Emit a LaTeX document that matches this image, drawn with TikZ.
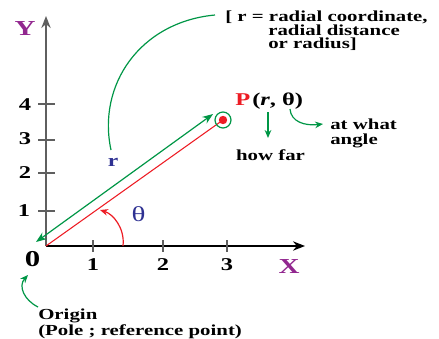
\documentclass[tikz,border=0pt]{standalone}
\usepackage{fontspec}
\setmainfont{Liberation Serif}[FakeStretch=1.36]
\usetikzlibrary{arrows.meta}
\definecolor{mygreen}{RGB}{0,150,70}
\definecolor{myred}{RGB}{237,28,36}
\definecolor{mypurple}{RGB}{146,39,143}
\definecolor{myblue}{RGB}{46,49,146}
\definecolor{axisgrey}{RGB}{95,95,95}
\tikzset{
  txt/.style={font=\fontsize{11.5}{9.8}\selectfont\bfseries, inner sep=0pt},
  num/.style={font=\fontsize{13.5}{14}\selectfont\bfseries, inner sep=0pt},
  axlab/.style={font=\fontsize{16}{16}\selectfont\bfseries, text=mypurple, inner sep=0pt},
  garrow/.style={draw=mygreen, line width=0.9pt, -{Stealth[length=6pt,width=5pt]}},
  tickmark/.style={draw=axisgrey, line width=1.2pt},
}
\begin{document}
\begin{tikzpicture}[x=0.75pt,y=-0.75pt]
\useasboundingbox (0,0) rectangle (439,339);
% axes
\coordinate (O) at (46,246);
\coordinate (Ytop) at (46,16);
\coordinate (Xend) at (305,246);
\draw[draw=axisgrey, line width=1.5pt, -{Stealth[length=9pt,width=7pt]}] (O) -- (Ytop);
\draw[black, line width=1.1pt, -{Stealth[length=9pt,width=7pt]}] (O) -- (Xend);
% ticks
\foreach \x/\n in {93/xa,163/xb,227/xc}{
  \coordinate (\n t) at (\x,240); \coordinate (\n b) at (\x,252);
  \draw[tickmark] (\n t) -- (\n b);
}
\foreach \y/\n in {211/ya,173/yb,140/yc,104/yd}{
  \coordinate (\n l) at (38,\y); \coordinate (\n r) at (55,\y);
  \draw[tickmark] (\n l) -- (\n r);
}
% labels
\node[num] (l1x) at (93,265) {1};
\node[num] (l2x) at (163,265) {2};
\node[num] (l3x) at (227,265) {3};
\node[num] (l1y) at (24,211) {1};
\node[num] (l2y) at (25,173) {2};
\node[num] (l3y) at (25,139) {3};
\node[num] (l4y) at (25,105) {4};
\node[font=\fontsize{17}{17}\selectfont\bfseries, inner sep=0pt] (zero) at (32.5,259.5) {0};
\node[axlab] (X) at (289,267) {X};
\node[axlab] (Y) at (25,29) {Y};
% point P
\coordinate (Pt) at (223,120);
\draw[myred, line width=0.8pt] (O) -- (Pt);
\fill[myred] (Pt) circle (4.2);
\draw[mygreen, line width=0.9pt] (Pt) circle (8);
% green double arrow r
\coordinate (ga) at (36,242);
\coordinate (gb) at (213,114);
\draw[draw=mygreen, line width=0.9pt, {Stealth[length=8pt,width=6pt]}-{Stealth[length=8pt,width=6pt]}] (ga) -- (gb);
% theta arc
\coordinate (tha) at (123,246);
\coordinate (thb) at (100,210);
\draw[myred, line width=0.9pt, -{Stealth[length=6pt,width=5pt]}] (tha) .. controls (125,228) and (113,214) .. (thb);
\node[font=\fontsize{16}{16}\selectfont, text=myblue, inner sep=0pt] (theta) at (138.5,214) {θ};
% r label and curve
\node[font=\fontsize{13}{13}\selectfont\bfseries, text=myblue, inner sep=0pt] (rlab) at (113,162) {r};
\coordinate (ca) at (111,150);
\coordinate (cb) at (215,15);
\draw[mygreen, line width=0.9pt] (ca) .. controls (97,85) and (140,22) .. (cb);
% bracket text
\node[txt, anchor=base west] (br1) at (225,21.5) {[ r = radial coordinate,};
\node[txt, anchor=base west] (br2) at (268,35) {radial distance};
\node[txt, anchor=base west] (br3) at (268,48.5) {or radius]};
% P (r, theta)
\node[font=\fontsize{13.5}{14}\selectfont\bfseries, text=myred, inner sep=0pt, anchor=base west] (P) at (235,105) {P};
\node[font=\fontsize{13.5}{14}\selectfont\bfseries, inner sep=0pt, anchor=base west] (coords) at (252,105) {(\textit{r}, θ)};
\coordinate (da) at (268,112);
\coordinate (db) at (268,138);
\draw[garrow] (da) -- (db);
\node[txt] (howfar) at (270.5,155) {how far};
\coordinate (aa) at (290,109);
\coordinate (ab) at (323,124);
\draw[garrow] (aa) .. controls (291,122) and (305,126) .. (ab);
\node[txt, font=\fontsize{11.5}{10.8}\selectfont\bfseries, align=left, anchor=north west] (angle) at (330,119) {at what\\angle};
% origin
\coordinate (oa) at (38,307);
\coordinate (ob) at (28,275);
\draw[garrow] (oa) .. controls (24,300) and (18,286) .. (ob);
\node[txt, align=left, anchor=north west] (origin) at (38,309) {Origin\\(Pole ; reference point)};
\end{tikzpicture}
\end{document}
